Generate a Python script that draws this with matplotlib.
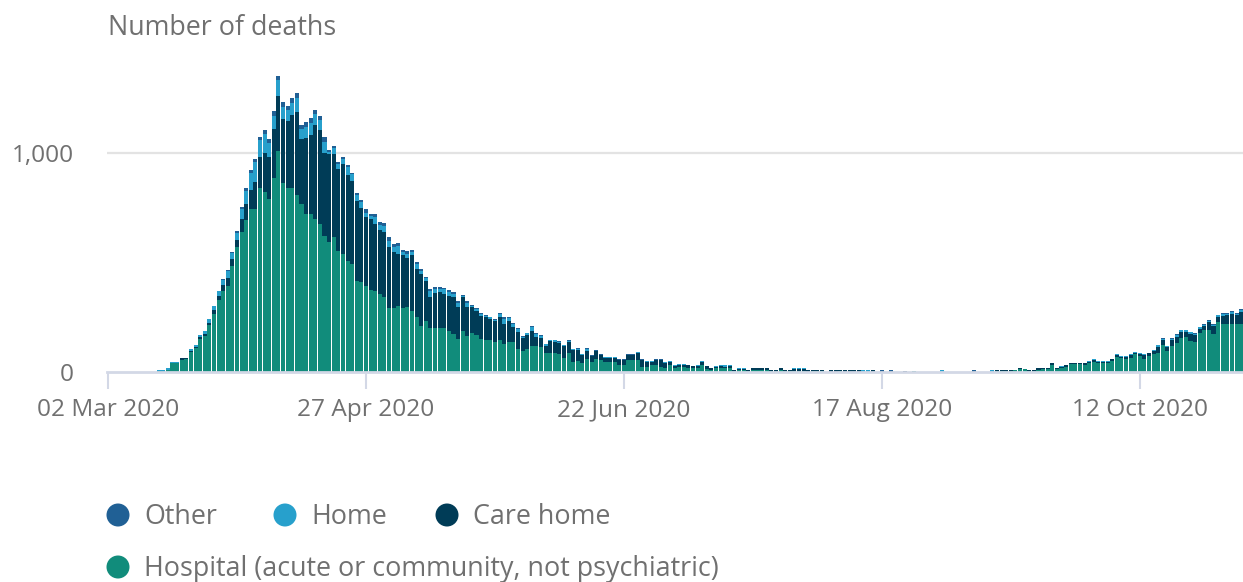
import numpy as np
import pandas as pd
import matplotlib
matplotlib.use("Agg")
import matplotlib.pyplot as plt
from matplotlib.patches import Circle

plt.rcParams['font.family'] = ['Open Sans', 'DejaVu Sans']

dates = pd.date_range("2020-03-02", periods=247, freq="D")

# daily deaths by place of death, one row per week (first row 02-12 Mar)
hospital = [0] * 11 + [6, 6, 10,
    40, 42, 56, 58, 92, 110, 150,
    165, 215, 266, 330, 372, 394, 486,
    570, 639, 696, 746, 746, 838, 820,
    789, 885, 1008, 861, 838, 838, 807,
    766, 723, 723, 700, 674, 619, 593,
    616, 552, 540, 509, 494, 414, 410,
    394, 375, 372, 356, 344, 292, 292,
    303, 292, 298, 280, 249, 211, 231,
    203, 203, 203, 200, 188, 173, 150,
    188, 163, 180, 170, 150, 147, 147,
    138, 147, 130, 138, 138, 105, 96,
    105, 119, 119, 115, 89, 89, 89,
    84, 63, 86, 44, 50, 41, 61,
    46, 61, 54, 46, 46, 46, 31,
    31, 54, 54, 54, 23, 23, 31,
    31, 23, 18, 31, 18, 23, 23,
    18, 18, 18, 31, 15, 10, 18,
    20, 18, 18, 6, 10, 10, 5,
    8, 10, 9, 9, 4, 5, 8,
    4, 4, 6, 6, 6, 2, 3,
    3, 5, 0, 2, 2, 3, 2,
    2, 2, 2, 0, 2, 2, 0,
    0, 0, 0, 0, 0, 0, 0,
    6, 0, 0, 0, 0, 0, 0,
    0, 0, 0, 0, 0, 0, 0,
    0, 0, 0, 2, 3, 3, 3,
    5, 8, 15, 14, 6, 6, 10,
    14, 14, 30, 12, 20, 25, 35,
    35, 35, 33, 40, 45, 40, 42,
    42, 52, 68, 62, 60, 64, 80,
    72, 61, 72, 82, 89, 125, 95,
    118, 133, 156, 160, 141, 135, 176,
    191, 191, 175, 229, 217, 217, 217,
    217, 220]

care_home = [0] * 11 + [0, 0, 0,
    2, 1, 6, 5, 5, 6, 8,
    8, 10, 15, 18, 25, 35, 30,
    31, 61, 70, 84, 122, 145, 181,
    191, 225, 250, 296, 310, 334, 380,
    298, 345, 358, 427, 431, 380, 401,
    378, 373, 412, 391, 378, 366, 341,
    314, 325, 305, 291, 295, 278, 255,
    237, 240, 223, 252, 222, 237, 186,
    138, 156, 161, 157, 161, 168, 145,
    153, 132, 115, 110, 107, 102, 95,
    96, 102, 89, 93, 68, 78, 59,
    65, 69, 42, 40, 30, 53, 50,
    48, 55, 50, 55, 52, 38, 37,
    26, 33, 22, 19, 19, 17, 24,
    24, 22, 23, 31, 31, 23, 15,
    22, 30, 25, 14, 11, 11, 11,
    14, 9, 10, 14, 11, 7, 5,
    6, 6, 8, 3, 4, 3, 4,
    8, 6, 7, 8, 6, 5, 8,
    6, 6, 8, 6, 6, 5, 4,
    4, 2, 0, 5, 5, 4, 5,
    5, 5, 5, 0, 0, 5, 0,
    6, 0, 4, 0, 0, 6, 0,
    0, 0, 0, 0, 0, 0, 0,
    0, 0, 0, 0, 0, 0, 6,
    0, 0, 0, 0, 5, 5, 5,
    3, 0, 3, 1, 2, 2, 8,
    4, 4, 10, 6, 4, 5, 5,
    5, 5, 6, 6, 8, 6, 5,
    5, 6, 10, 7, 9, 12, 8,
    12, 16, 14, 12, 26, 22, 18,
    28, 28, 26, 22, 32, 32, 21,
    17, 36, 34, 22, 40, 42, 48,
    42, 52]

home = [0] * 11 + [3, 3, 6,
    3, 2, 3, 2, 6, 8, 10,
    13, 15, 19, 20, 24, 34, 26,
    35, 46, 62, 80, 90, 75, 85,
    66, 60, 74, 55, 50, 58, 65,
    46, 52, 55, 50, 45, 53, 12,
    30, 25, 20, 35, 30, 30, 25,
    18, 12, 30, 22, 26, 30, 25,
    35, 16, 20, 16, 20, 15, 12,
    30, 22, 15, 20, 18, 16, 20,
    6, 22, 7, 8, 9, 8, 7,
    5, 14, 24, 15, 14, 12, 7,
    6, 16, 11, 10, 7, 3, 5,
    6, 5, 6, 5, 5, 3, 9,
    3, 4, 3, 3, 3, 5, 2,
    2, 3, 2, 6, 3, 2, 2,
    4, 4, 2, 3, 2, 3, 3,
    2, 1, 2, 3, 2, 1, 3,
    5, 7, 5, 2, 4, 5, 2,
    2, 2, 2, 1, 1, 1, 2,
    1, 1, 4, 4, 6, 1, 1,
    1, 1, 0, 1, 1, 1, 1,
    1, 1, 1, 8, 6, 1, 0,
    0, 0, 0, 0, 0, 0, 0,
    0, 0, 0, 0, 0, 0, 8,
    0, 0, 0, 0, 0, 0, 0,
    0, 0, 0, 6, 0, 0, 0,
    0, 2, 0, 0, 0, 0, 0,
    0, 0, 1, 0, 4, 1, 1,
    1, 1, 2, 3, 5, 3, 2,
    2, 3, 3, 3, 3, 5, 4,
    3, 3, 3, 5, 8, 5, 5,
    6, 10, 10, 10, 8, 7, 7,
    7, 8, 6, 7, 9, 7, 10,
    7, 12]

other = [0] * 11 + [0, 0, 2,
    1, 1, 1, 1, 1, 1, 2,
    2, 2, 3, 4, 4, 5, 5,
    6, 8, 11, 12, 13, 17, 20,
    18, 20, 21, 20, 18, 20, 22,
    18, 20, 22, 20, 18, 20, 8,
    8, 10, 8, 10, 8, 8, 8,
    20, 11, 16, 16, 15, 16, 14,
    14, 10, 11, 10, 10, 8, 7,
    9, 9, 8, 8, 8, 7, 7,
    5, 7, 3, 4, 4, 3, 3,
    3, 6, 9, 6, 6, 5, 3,
    3, 7, 5, 5, 4, 2, 3,
    3, 2, 2, 3, 3, 2, 3,
    1, 1, 1, 1, 1, 1, 1,
    1, 1, 1, 1, 1, 1, 1,
    1, 1, 1, 1, 0, 1, 1,
    0, 0, 0, 1, 0, 0, 0] + [0] * 35 + [
    2, 0, 4, 0, 0, 0, 0,
    0, 0, 0, 0, 0, 0, 0,
    0, 0, 0, 0, 0, 0, 2] + [0] * 35 + [
    0, 0, 0, 0, 2, 1, 0,
    1, 2, 2, 2, 2, 2, 2,
    2, 2, 2, 2, 2, 2, 3,
    2, 3]

series = [("Hospital (acute or community, not psychiatric)", hospital, "#118c7b"),
          ("Care home", care_home, "#003c57"),
          ("Home", home, "#27a0cc"),
          ("Other", other, "#206095")]

tick_dates = pd.to_datetime(["2020-03-02", "2020-04-27", "2020-06-22",
                             "2020-08-17", "2020-10-12"])
tick_labels = ["02 Mar 2020", "27 Apr 2020", "22 Jun 2020", "17 Aug 2020", "12 Oct 2020"]

text_col = "#707070"
axis_col = "#d3d8e6"

fig = plt.figure(figsize=(12.43, 5.82), dpi=100)
ax = fig.add_axes([107 / 1243, 210 / 582, 1136 / 1243, 306.6 / 582])

bottom = np.zeros(len(dates))
for name, vals, col in series:
    vals = np.array(vals, dtype=float)
    ax.bar(dates, vals, bottom=bottom, width=0.88, color=col, linewidth=0)
    bottom += vals

ax.set_ylim(0, 1400)
ax.set_xlim(dates[0] - pd.Timedelta(days=0.22), dates[0] + pd.Timedelta(days=246.4))
ax.set_yticks([0, 1000])
ax.set_yticklabels(["0", "1,000"])
ax.set_xticks(tick_dates)
ax.set_xticklabels(tick_labels)
ax.axhline(1000, color="#e3e3e3", lw=1.6, zorder=0)

for s in ["top", "right", "left"]:
    ax.spines[s].set_visible(False)
ax.spines["bottom"].set_color(axis_col)
ax.spines["bottom"].set_linewidth(2)
ax.tick_params(axis="x", length=12, width=1.5, color=axis_col, pad=7,
               labelsize=17.6, labelcolor=text_col)
ax.tick_params(axis="y", length=0, pad=24, labelsize=17.6, labelcolor=text_col)

fig.text(108 / 1243, 1 - 35 / 582, "Number of deaths", fontsize=19.4,
         color=text_col, va="baseline", ha="left")

# legend drawn in pixel space
lg = fig.add_axes([0, 0, 1, 1])
lg.set_xlim(0, 1243)
lg.set_ylim(582, 0)
lg.axis("off")
items = [("Other", "#206095", 118, 515),
         ("Home", "#27a0cc", 285, 515),
         ("Care home", "#003c57", 447, 515),
         ("Hospital (acute or community, not psychiatric)", "#118c7b", 118, 567)]
for label, col, cx, cy in items:
    lg.add_patch(Circle((cx, cy), 11.5, color=col, lw=0))
    lg.text(cx + 26, cy + 2, label, fontsize=19.4, color=text_col, va="center", ha="left")

fig.savefig("out.png", dpi=100)
